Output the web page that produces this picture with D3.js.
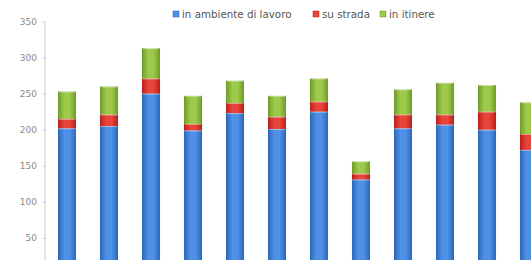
<!DOCTYPE html>
<html>
<head>
<meta charset="utf-8">
<script src="https://cdn.jsdelivr.net/npm/d3@7"></script>
<style>
  html, body { margin: 0; padding: 0; background: #fff; overflow: hidden; }
  svg { display: block; font-family: "DejaVu Sans", "Liberation Sans", Arial, sans-serif; }
</style>
</head>
<body>
<div id="chart"></div>
<script>
// months (their labels sit below the cropped area, so they are not drawn)
const categories = ["Gen", "Feb", "Mar", "Apr", "Mag", "Giu", "Lug", "Ago", "Set", "Ott", "Nov", "Dic"];
const seriesNames = ["in ambiente di lavoro", "su strada", "in itinere"];
const lavoro  = [202, 205, 250, 199, 223, 201, 225, 131, 202, 207, 200, 172];
const strada  = [13, 16, 21, 9, 14, 17, 14, 8, 19, 14, 25, 22];
const itinere = [38, 39, 42, 39, 31, 29, 32, 17, 35, 44, 37, 44];
const yTicks = [50, 100, 150, 200, 250, 300, 350];

const colors = [
    {dark: "#2c66b8", light: "#4d90e6"},
    {dark: "#b81f1b", light: "#e8443a"},
    {dark: "#6f9a2a", light: "#9dca4a"}
];

const width = 560, height = 300;
const svg = d3.select("#chart").append("svg")
    .attr("width", width)
    .attr("height", height);

const defs = svg.append("defs");
colors.forEach((c, i) => {
    const g = defs.append("linearGradient")
        .attr("id", "grad" + i)
        .attr("x1", "0%").attr("x2", "100%")
        .attr("y1", "0%").attr("y2", "0%");
    g.append("stop").attr("offset", "0%").attr("stop-color", c.dark);
    g.append("stop").attr("offset", "35%").attr("stop-color", c.light);
    g.append("stop").attr("offset", "65%").attr("stop-color", c.light);
    g.append("stop").attr("offset", "100%").attr("stop-color", c.dark);
});

const table = categories.map((d, i) => ({
    cat: d, lavoro: lavoro[i], strada: strada[i], itinere: itinere[i]
}));
const stack = d3.stack().keys(["lavoro", "strada", "itinere"])(table);

const x = d3.scaleBand()
    .domain(categories)
    .range([46, 550])
    .paddingInner(0.57)
    .paddingOuter(0.285);

const y = d3.scaleLinear()
    .domain([0, 350])
    .range([274, 21.5]);

// y axis
const yAxis = svg.append("g")
    .attr("transform", "translate(45,0)")
    .call(d3.axisLeft(y).tickValues(yTicks).tickSize(3).tickPadding(5));
yAxis.select(".domain").attr("stroke", "#c9c9c9").attr("d", `M0,${y(350)}V${y(0)}`);
yAxis.selectAll(".tick line").attr("stroke", "#d6d6d6");
yAxis.selectAll(".tick text")
    .attr("fill", "#8a8a8a")
    .attr("font-size", "9px")
    .attr("font-family", "DejaVu Sans, sans-serif");

// bars
const layers = svg.selectAll(".layer")
    .data(stack)
    .join("g")
    .attr("class", "layer")
    .attr("fill", (d, i) => `url(#grad${i})`);

layers.selectAll("rect")
    .data(d => d)
    .join("rect")
    .attr("x", d => x(d.data.cat))
    .attr("y", d => y(d[1]))
    .attr("width", x.bandwidth())
    .attr("height", d => y(d[0]) - y(d[1]));

// thin light highlight at top of each segment
layers.selectAll("line")
    .data(d => d)
    .join("line")
    .attr("x1", d => x(d.data.cat) + 1)
    .attr("x2", d => x(d.data.cat) + x.bandwidth() - 1)
    .attr("y1", d => y(d[1]) + 0.5)
    .attr("y2", d => y(d[1]) + 0.5)
    .attr("stroke", "#ffffff")
    .attr("stroke-opacity", 0.45)
    .attr("stroke-width", 1);

// legend
const legendPos = [173, 313, 380];
const legend = svg.append("g").attr("class", "legend");
const items = legend.selectAll(".legend-item")
    .data(seriesNames)
    .join("g")
    .attr("class", "legend-item")
    .attr("transform", (d, i) => `translate(${legendPos[i]},11)`);

items.append("rect")
    .attr("width", 6)
    .attr("height", 6)
    .attr("fill", (d, i) => colors[i].light)
    .attr("stroke", (d, i) => colors[i].dark)
    .attr("stroke-width", 0.5);

items.append("text")
    .attr("x", 9)
    .attr("y", 6.5)
    .attr("font-size", "10.3px")
    .attr("fill", "#555")
    .text(d => d);
</script>
</body>
</html>
